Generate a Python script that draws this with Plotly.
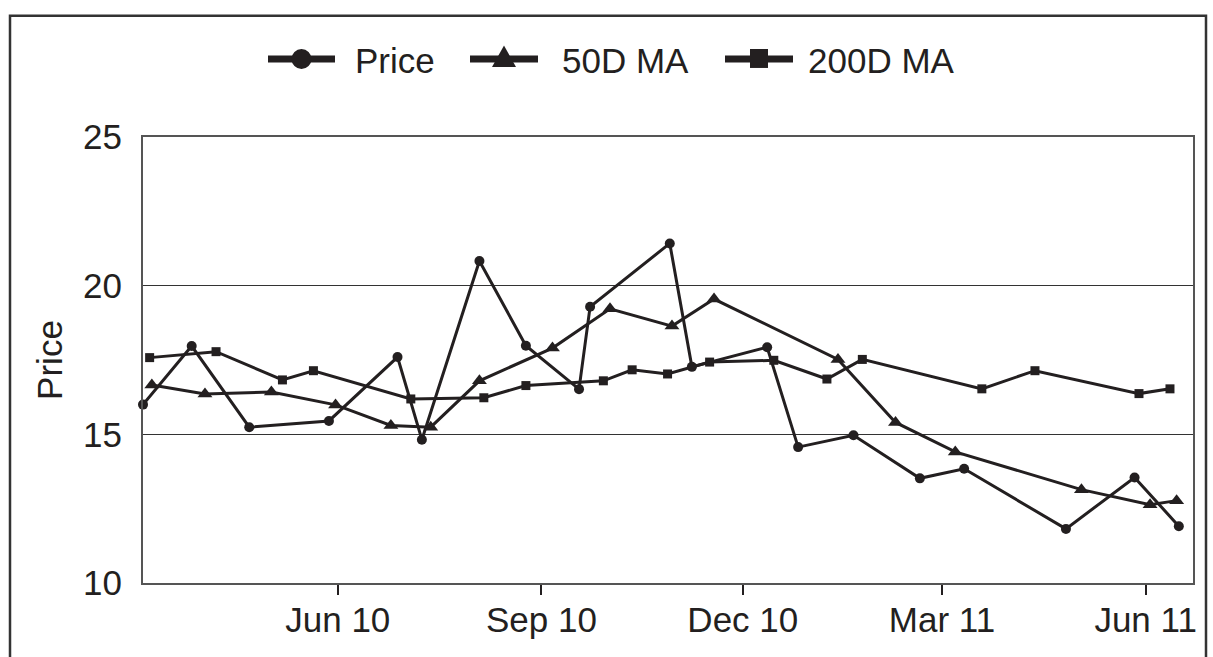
import plotly.graph_objects as go

# ---- data ----
price_dates = ["2010-03-05", "2010-03-27", "2010-04-22", "2010-05-28", "2010-06-28",
               "2010-07-09", "2010-08-04", "2010-08-25", "2010-09-18", "2010-09-23",
               "2010-10-29", "2010-11-08", "2010-12-12", "2010-12-26", "2011-01-20",
               "2011-02-19", "2011-03-11", "2011-04-26", "2011-05-27", "2011-06-16"]
price_vals = [16.0, 17.97, 15.24, 15.45, 17.60, 14.82, 20.83, 17.98, 16.52, 19.29,
              21.42, 17.27, 17.93, 14.57, 14.97, 13.52, 13.84, 11.82, 13.55, 11.91]

ma50_dates = ["2010-03-09", "2010-04-02", "2010-05-02", "2010-05-31", "2010-06-25",
              "2010-07-13", "2010-08-04", "2010-09-06", "2010-10-02", "2010-10-30",
              "2010-11-18", "2011-01-13", "2011-02-08", "2011-03-07", "2011-05-03",
              "2011-06-03", "2011-06-15"]
ma50_vals = [16.66, 16.36, 16.42, 15.99, 15.30, 15.24, 16.80, 17.90, 19.22, 18.64,
             19.55, 17.52, 15.40, 14.41, 13.14, 12.63, 12.77]

ma200_dates = ["2010-03-08", "2010-04-07", "2010-05-07", "2010-05-21", "2010-07-04",
               "2010-08-06", "2010-08-25", "2010-09-29", "2010-10-12", "2010-10-28",
               "2010-11-16", "2010-12-15", "2011-01-08", "2011-01-24", "2011-03-19",
               "2011-04-12", "2011-05-29", "2011-06-12"]
ma200_vals = [17.58, 17.78, 16.83, 17.14, 16.19, 16.23, 16.64, 16.80, 17.17, 17.03,
              17.43, 17.49, 16.86, 17.52, 16.53, 17.14, 16.37, 16.53]

tick_dates = ["2010-06-01", "2010-09-01", "2010-12-01", "2011-03-01", "2011-06-01"]
tick_labels = ["Jun 10", "Sep 10", "Dec 10", "Mar 11", "Jun 11"]
y_ticks = [10, 15, 20, 25]
series_names = ["Price", "50D MA", "200D MA"]

INK = "#231f20"
FONT = "Liberation Sans, Arial, sans-serif"

W, H = 1213, 657
ML, MR, MT, MB = 143, 20, 136.5, 73.5
PW, PH = W - ML - MR, H - MT - MB


def px(x):
    return (x - ML) / PW


def py(y):
    return 1 + (MT - y) / PH


styles = [("circle", 10), ("triangle-up", 13), ("square", 9)]
series = [(price_dates, price_vals), (ma50_dates, ma50_vals), (ma200_dates, ma200_vals)]

fig = go.Figure()
for name, (xs, ys), (sym, sz) in zip(series_names, series, styles):
    fig.add_trace(go.Scatter(
        x=xs, y=ys, mode="lines+markers", name=name, showlegend=False,
        line=dict(color=INK, width=3),
        marker=dict(symbol=sym, size=sz, color=INK),
        cliponaxis=False,
    ))

# ---- custom legend (keys drawn larger, as in the reference) ----
LY = 58.3
legend_keys = [  # (line x0, line x1, text x)
    (268, 335, 353),
    (470, 538, 560),
    (725, 793, 806),
]
shapes = []
annotations = []
for i, (name, (lx0, lx1, tx)) in enumerate(zip(series_names, legend_keys)):
    cx = (lx0 + lx1) / 2
    shapes.append(dict(type="line", xref="paper", yref="paper",
                       x0=px(lx0), x1=px(lx1), y0=py(LY), y1=py(LY),
                       line=dict(color=INK, width=7)))
    if i == 0:
        r = 10
        shapes.append(dict(type="circle", xref="paper", yref="paper",
                           x0=px(cx - r), x1=px(cx + r), y0=py(LY - r), y1=py(LY + r),
                           fillcolor=INK, line=dict(color=INK, width=0)))
    elif i == 1:
        path = "M {:.5f} {:.5f} L {:.5f} {:.5f} L {:.5f} {:.5f} Z".format(
            px(cx), py(LY - 13.5), px(cx + 12), py(LY + 8), px(cx - 12), py(LY + 8))
        shapes.append(dict(type="path", xref="paper", yref="paper", path=path,
                           fillcolor=INK, line=dict(color=INK, width=0)))
    else:
        s = 9
        shapes.append(dict(type="rect", xref="paper", yref="paper",
                           x0=px(cx - s), x1=px(cx + s), y0=py(LY - s - 1), y1=py(LY + s),
                           fillcolor=INK, line=dict(color=INK, width=0)))
    annotations.append(dict(text=name, xref="paper", yref="paper",
                            x=px(tx), y=py(LY + 1.5), xanchor="left", yanchor="middle",
                            showarrow=False, font=dict(family=FONT, size=35, color=INK)))

# outer frame
shapes.append(dict(type="rect", xref="paper", yref="paper",
                   x0=px(10), x1=px(1206), y0=py(720), y1=py(15),
                   line=dict(color="#333333", width=2.5),
                   fillcolor="rgba(0,0,0,0)", layer="below"))

fig.update_layout(
    width=W, height=H,
    margin=dict(l=ML, r=MR, t=MT, b=MB),
    paper_bgcolor="white", plot_bgcolor="white",
    font=dict(family=FONT, size=35, color=INK),
    showlegend=False,
    xaxis=dict(
        type="date",
        range=["2010-03-05", "2011-06-22 09:36"],
        tickvals=tick_dates, ticktext=tick_labels,
        ticks="outside", ticklen=10, tickwidth=2, tickcolor=INK,
        ticklabelstandoff=-5,
        showgrid=False, zeroline=False,
        showline=True, linecolor="#555555", linewidth=2, mirror=True,
        tickfont=dict(family=FONT, size=35, color=INK),
    ),
    yaxis=dict(
        range=[10, 25], tickvals=y_ticks,
        ticks="", ticklabelstandoff=12,
        showgrid=True, gridcolor="#333333", gridwidth=1,
        zeroline=False,
        showline=True, linecolor="#555555", linewidth=2, mirror=True,
        title=dict(text="Price", font=dict(family=FONT, size=35, color=INK), standoff=10),
        tickfont=dict(family=FONT, size=35, color=INK),
    ),
    shapes=shapes,
    annotations=annotations,
)

fig.write_html("out.html")
